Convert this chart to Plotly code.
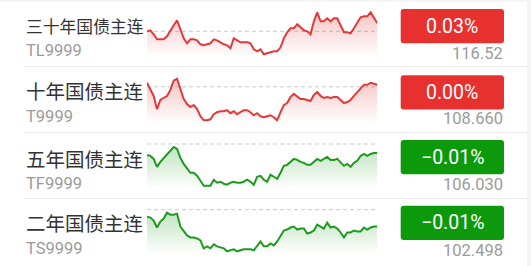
import plotly.graph_objects as go

W, H = 531, 266

# ---------------- data ----------------
names = ["三十年国债主连", "十年国债主连", "五年国债主连", "二年国债主连"]
codes = ["TL9999", "T9999", "TF9999", "TS9999"]
changes = ["0.03%", "0.00%", "−0.01%", "−0.01%"]
prices = ["116.52", "108.660", "106.030", "102.498"]
prev_close = [116.49, 108.66, 106.04, 102.508]

tl_vals = [116.49, 116.50, 116.46, 116.41, 116.41, 116.41, 116.44, 116.50, 116.55, 116.60,
           116.51, 116.42, 116.37, 116.41, 116.41, 116.40, 116.36, 116.35, 116.36, 116.37,
           116.41, 116.40, 116.38, 116.36, 116.35, 116.32, 116.42, 116.40, 116.38, 116.38,
           116.38, 116.37, 116.31, 116.29, 116.31, 116.26, 116.27, 116.28, 116.29, 116.29,
           116.33, 116.42, 116.48, 116.52, 116.52, 116.56, 116.53, 116.50, 116.49, 116.46,
           116.59, 116.68, 116.59, 116.59, 116.62, 116.59, 116.62, 116.62, 116.55, 116.48,
           116.48, 116.47, 116.52, 116.58, 116.63, 116.64, 116.64, 116.68, 116.63, 116.57]

t_vals = [108.70, 108.64, 108.57, 108.44, 108.53, 108.55, 108.57, 108.63, 108.72, 108.74,
          108.63, 108.54, 108.49, 108.46, 108.48, 108.44, 108.37, 108.33, 108.33, 108.34,
          108.39, 108.41, 108.42, 108.42, 108.43, 108.40, 108.42, 108.39, 108.41, 108.43,
          108.43, 108.41, 108.38, 108.40, 108.37, 108.36, 108.37, 108.38, 108.36, 108.33,
          108.41, 108.48, 108.50, 108.56, 108.59, 108.56, 108.54, 108.54, 108.53, 108.52,
          108.58, 108.61, 108.57, 108.55, 108.56, 108.55, 108.56, 108.56, 108.53, 108.50,
          108.51, 108.53, 108.57, 108.61, 108.64, 108.68, 108.68, 108.70, 108.69, 108.68]

tf_vals = [105.985, 105.980, 105.965, 105.925, 105.950, 105.970, 105.985, 106.010, 106.025, 106.015,
           105.970, 105.940, 105.920, 105.895, 105.895, 105.880, 105.855, 105.830, 105.830, 105.830,
           105.860, 105.845, 105.850, 105.840, 105.835, 105.845, 105.850, 105.845, 105.845, 105.850,
           105.860, 105.850, 105.835, 105.875, 105.880, 105.860, 105.850, 105.885, 105.875, 105.865,
           105.895, 105.930, 105.935, 105.950, 105.965, 105.960, 105.950, 105.945, 105.935, 105.935,
           105.950, 105.965, 105.955, 105.965, 105.975, 105.960, 105.960, 105.965, 105.945, 105.930,
           105.940, 105.925, 105.945, 105.955, 105.980, 105.990, 105.980, 105.990, 105.995, 105.995]

ts_vals = [102.494, 102.492, 102.486, 102.472, 102.484, 102.490, 102.502, 102.498, 102.498, 102.500,
           102.474, 102.464, 102.456, 102.452, 102.452, 102.450, 102.446, 102.430, 102.434, 102.430,
           102.438, 102.434, 102.432, 102.430, 102.424, 102.426, 102.428, 102.424, 102.426, 102.428,
           102.428, 102.428, 102.426, 102.434, 102.444, 102.434, 102.434, 102.440, 102.436, 102.444,
           102.454, 102.466, 102.468, 102.472, 102.474, 102.468, 102.470, 102.470, 102.460, 102.462,
           102.466, 102.478, 102.474, 102.470, 102.482, 102.472, 102.474, 102.470, 102.462, 102.452,
           102.462, 102.462, 102.466, 102.464, 102.464, 102.472, 102.468, 102.472, 102.474, 102.474]

series = [tl_vals, t_vals, tf_vals, ts_vals]

# ---------------- layout (pixels) ----------------
chart_x0, chart_x1 = 147.0, 377.3
chart_top = [12.3, 78.7, 144.0, 209.7]
chart_bot = [54.3, 120.3, 185.7, 251.3]
title_y = [26.0, 91.0, 158.8, 222.8]
title_size = [16.8, 19.5, 19.5, 19.5]
code_y = [50.8, 116.5, 183.5, 248.5]
price_y = [53.3, 118.7, 184.5, 250.3]
badge_top = [9.0, 75.3, 140.0, 205.8]
badge_h = 34.3
badge_x0, badge_x1 = 400.7, 504.0
sep_y = [66.5, 132.5, 198.5]

RED_LINE, RED_RGB, RED_BADGE = "#E23A3A", (226, 58, 58), "#E6312F"
GREEN_LINE, GREEN_RGB, GREEN_BADGE = "#1E9A1E", (30, 154, 30), "#0C9A0C"


def fx(p):
    return p / W


def fy(p):
    return 1 - p / H


def rrect(x0, y0, x1, y1, r):
    return (f"M {fx(x0 + r)},{fy(y0)} L {fx(x1 - r)},{fy(y0)} "
            f"Q {fx(x1)},{fy(y0)} {fx(x1)},{fy(y0 + r)} L {fx(x1)},{fy(y1 - r)} "
            f"Q {fx(x1)},{fy(y1)} {fx(x1 - r)},{fy(y1)} L {fx(x0 + r)},{fy(y1)} "
            f"Q {fx(x0)},{fy(y1)} {fx(x0)},{fy(y1 - r)} L {fx(x0)},{fy(y0 + r)} "
            f"Q {fx(x0)},{fy(y0)} {fx(x0 + r)},{fy(y0)} Z")


fig = go.Figure()
layout = dict(
    width=W, height=H, autosize=False,
    margin=dict(l=0, r=0, t=0, b=0),
    paper_bgcolor="#f4f4f4", plot_bgcolor="rgba(0,0,0,0)",
    showlegend=False,
)
shapes = [dict(type="rect", xref="paper", yref="paper", x0=fx(0), x1=fx(527), y0=fy(266), y1=fy(2),
               fillcolor="white", line=dict(width=0), layer="below")]
for s in sep_y:
    shapes.append(dict(type="line", xref="paper", yref="paper", x0=fx(24), x1=fx(527), y0=fy(s), y1=fy(s),
                       line=dict(color="#ebebeb", width=1), layer="below"))
annotations = []

for i, vals in enumerate(series):
    up = not changes[i].startswith("−")
    lc = RED_LINE if up else GREEN_LINE
    rgb = RED_RGB if up else GREEN_RGB
    bc = RED_BADGE if up else GREEN_BADGE
    sfx = "" if i == 0 else str(i + 1)
    xa, ya = "x" + sfx, "y" + sfx
    lo = min(min(vals), prev_close[i])
    hi = max(max(vals), prev_close[i])
    ppx = (hi - lo) / (chart_bot[i] - chart_top[i])
    pad = 1.5
    layout["xaxis" + sfx] = dict(domain=[fx(chart_x0), fx(chart_x1)], range=[0, len(vals) - 1],
                                 visible=False, fixedrange=True, anchor=ya)
    layout["yaxis" + sfx] = dict(domain=[fy(chart_bot[i] + pad), fy(chart_top[i] - pad)],
                                 range=[lo - pad * ppx, hi + pad * ppx],
                                 visible=False, fixedrange=True, anchor=xa)
    fig.add_trace(go.Scatter(
        x=list(range(len(vals))), y=vals, mode="lines",
        line=dict(color=lc, width=2),
        fill="tozeroy",
        fillgradient=dict(type="vertical",
                          colorscale=[[0, f"rgba({rgb[0]},{rgb[1]},{rgb[2]},0.02)"],
                                      [1, f"rgba({rgb[0]},{rgb[1]},{rgb[2]},0.30)"]],
                          start=lo, stop=hi),
        xaxis=xa, yaxis=ya, hoverinfo="skip",
    ))
    shapes.append(dict(type="line", xref=xa, yref=ya, x0=0, x1=len(vals) - 1,
                       y0=prev_close[i], y1=prev_close[i],
                       line=dict(color="#c9c9c9", width=1, dash="4px,3px"), layer="below"))
    # badge
    shapes.append(dict(type="path", xref="paper", yref="paper",
                       path=rrect(badge_x0, badge_top[i], badge_x1, badge_top[i] + badge_h, 3),
                       fillcolor=bc, line=dict(width=0)))
    annotations.append(dict(xref="paper", yref="paper", x=fx(23.5), y=fy(title_y[i]),
                            xanchor="left", yanchor="middle", showarrow=False, text=names[i],
                            font=dict(family="Noto Sans CJK SC", size=title_size[i], color="#333333")))
    annotations.append(dict(xref="paper", yref="paper", x=fx(23.5), y=fy(code_y[i]),
                            xanchor="left", yanchor="middle", showarrow=False, text=codes[i],
                            font=dict(family="Roboto", size=16.5, color="#9b9b9b")))
    annotations.append(dict(xref="paper", yref="paper", x=fx((badge_x0 + badge_x1) / 2),
                            y=fy(badge_top[i] + badge_h / 2),
                            xanchor="center", yanchor="middle", showarrow=False, text=changes[i],
                            font=dict(family="Roboto", size=19.5, color="white")))
    annotations.append(dict(xref="paper", yref="paper", x=fx(504.5), y=fy(price_y[i]),
                            xanchor="right", yanchor="middle", showarrow=False, text=prices[i],
                            font=dict(family="Roboto", size=16.5, color="#9b9b9b")))

layout["shapes"] = shapes
layout["annotations"] = annotations
fig.update_layout(**layout)
fig.write_html("out.html", config={"displayModeBar": False})
